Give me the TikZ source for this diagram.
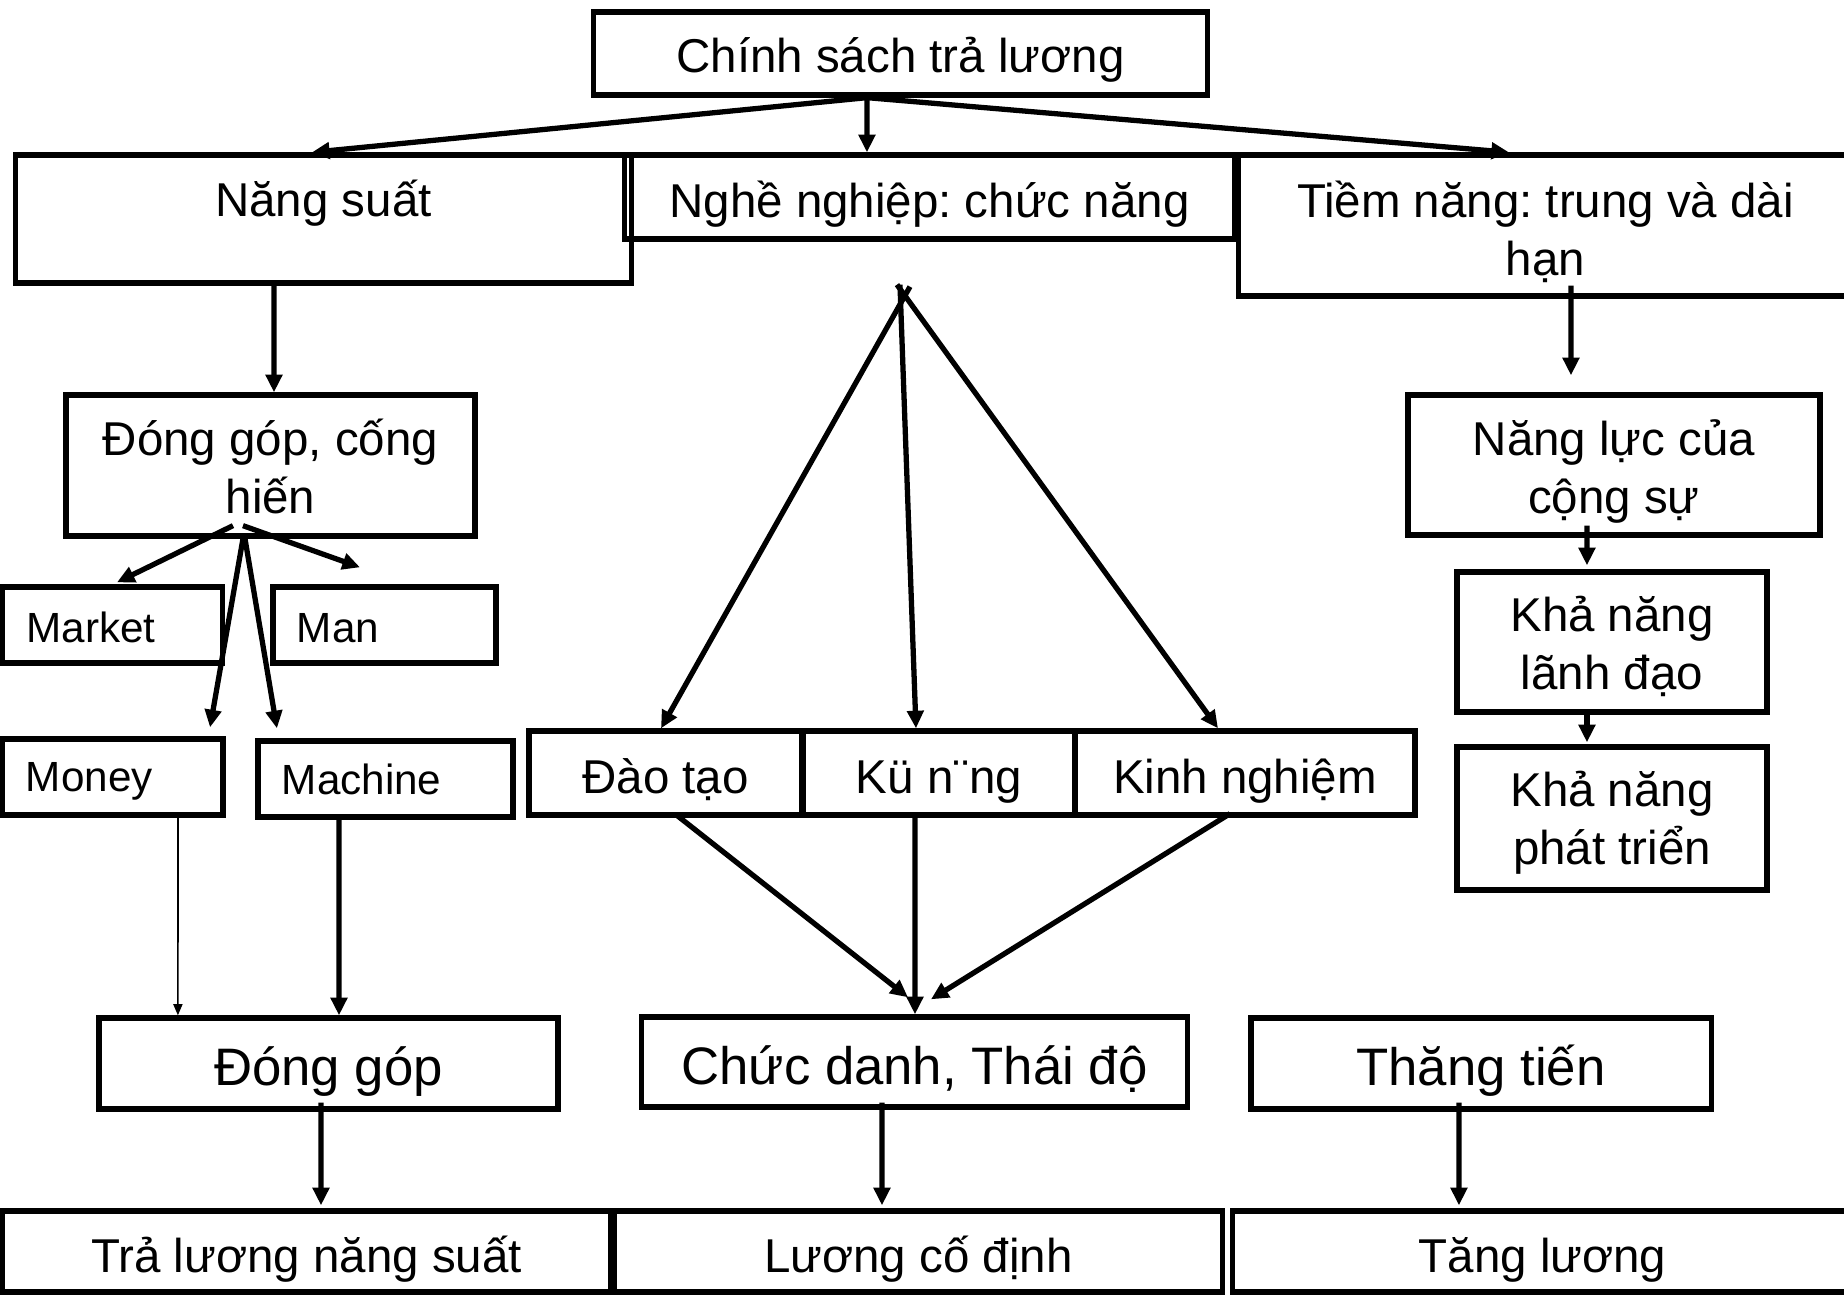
\documentclass[tikz,border=0pt]{standalone}
\usepackage{fontspec}
\setmainfont{Liberation Sans}
\usetikzlibrary{arrows.meta}
\frenchspacing
\begin{document}
\begin{tikzpicture}[x=0.01cm,y=-0.01cm,
  box/.style={draw,line width=1.5pt,inner sep=0pt,align=center,font=\fontsize{13.5pt}{16.5pt}\selectfont\frenchspacing},
  two/.style={text height=#1,text depth=3pt},
  one/.style={text height=#1,text depth=3pt},
  bigbox/.style={box,font=\fontsize{15pt}{18pt}\selectfont\frenchspacing},
  mbox/.style={draw,line width=1.5pt,inner ysep=0pt,inner xsep=0.24cm,align=left,font=\fontsize{12pt}{14pt}\selectfont},
  arr/.style={line width=1.5pt,-{Triangle[length=5pt,width=4.6pt]}},
  thinarr/.style={line width=0.45pt,-{Triangle[length=3.2pt,width=2.6pt]}}]
\clip (0,0) rectangle (1844,1295);
\fill[white] (0,0) rectangle (1844,1295);
% nodes
\node[box,one=14pt,minimum width=6.13cm,minimum height=0.83cm] (top) at (900.5,53.5) {Chính sách trả lương};
\node[box,minimum width=6.15cm,minimum height=1.28cm,text height=8pt,text depth=9.4pt] (ns) at (323.5,219) {Năng suất};
\node[box,two=31.2pt,minimum width=6.13cm,minimum height=1.41cm] (tn) at (1545.5,225.5) {Tiềm năng: trung và dài\\hạn};
\node[box,one=14.4pt,minimum width=6.09cm,minimum height=0.84cm] (nn) at (929.5,197) {Nghề nghiệp: chức năng};
\node[box,two=30.4pt,minimum width=4.09cm,minimum height=1.41cm] (dgch) at (270.5,465.5) {Đóng góp, cống\\hiến};
\node[mbox,one=12.7pt,text width=1.72cm,minimum height=0.76cm] (market) at (112.5,625) {Market};
\node[mbox,one=12.7pt,text width=1.75cm,minimum height=0.76cm] (man) at (384.5,625) {Man};
\node[mbox,one=11.5pt,text width=1.73cm,minimum height=0.76cm] (money) at (112.5,777) {Money};
\node[mbox,one=12pt,text width=2.07cm,minimum height=0.76cm] (machine) at (385.5,779) {Machine};
\node[box,one=14.4pt,minimum width=2.73cm,minimum height=0.84cm] (dt) at (665.5,773) {Đào tạo};
\node[box,one=14.4pt,minimum width=2.72cm,minimum height=0.84cm] (kn) at (939,773) {Kü n¨ng};
\node[box,one=14.4pt,minimum width=3.40cm,minimum height=0.84cm] (kng) at (1245,773) {Kinh nghiệm};
\node[box,two=30.6pt,minimum width=4.12cm,minimum height=1.40cm] (nl) at (1614,465) {Năng lực của\\cộng sự};
\node[box,two=30.3pt,minimum width=3.10cm,minimum height=1.40cm] (kld) at (1612,642) {Khả năng\\lãnh đạo};
\node[box,two=29.4pt,minimum width=3.10cm,minimum height=1.43cm] (kpt) at (1612,818.5) {Khả năng\\phát triển};
\node[bigbox,one=15.8pt,minimum width=4.59cm,minimum height=0.91cm] (dg) at (328.5,1063.5) {Đóng góp};
\node[bigbox,one=15.8pt,minimum width=5.45cm,minimum height=0.90cm] (cd) at (914.5,1062) {Chức danh, Thái độ};
\node[bigbox,one=15.8pt,minimum width=4.60cm,minimum height=0.91cm] (tt) at (1481,1063.5) {Thăng tiến};
\node[box,one=15.2pt,minimum width=6.07cm,minimum height=0.81cm] (tl) at (306.5,1251.5) {Trả lương năng suất};
\node[box,one=15.2pt,minimum width=6.07cm,minimum height=0.81cm] (lcd) at (918.5,1251.5) {Lương cố định};
\node[box,one=15.2pt,minimum width=6.19cm,minimum height=0.81cm] (tg) at (1542.5,1251.5) {Tăng lương};
% origins
\coordinate (ot) at ([xshift=-0.335cm]top.south);
% top level
\draw[arr] (ot) -- ([xshift=-0.115cm]ns.north);
\draw[arr] (ot) -- ([xshift=-0.625cm]nn.north);
\draw[arr] (ot) -- ([xshift=-0.365cm]tn.north);
% left branch
\draw[arr] ([xshift=-0.495cm]ns.south) -- ([xshift=0.035cm]dgch.north);
\draw[arr] ([xshift=-0.375cm,yshift=0.13cm]dgch.south) -- ([xshift=0.045cm,yshift=0.02cm]market.north);
\draw[arr] ([xshift=-0.275cm,yshift=0.13cm]dgch.south) -- ([xshift=-0.245cm,yshift=0.17cm]man.north);
\draw[arr] ([xshift=-0.275cm]dgch.south) -- ([xshift=0.975cm,yshift=0.09cm]money.north);
\draw[arr] ([xshift=-0.255cm]dgch.south) -- ([xshift=-1.085cm,yshift=0.10cm]machine.north);
\draw[thinarr] ([xshift=0.655cm,yshift=0.03cm]money.south) -- ([xshift=-1.505cm]dg.north);
\draw[arr] ([xshift=-0.465cm]machine.south) -- ([xshift=0.105cm]dg.north);
% middle branch
\draw[arr] ([xshift=-0.195cm,yshift=-0.45cm]nn.south) -- ([xshift=-0.045cm]dt.north);
\draw[arr] ([xshift=-0.295cm,yshift=-0.43cm]nn.south) -- ([xshift=-0.23cm]kn.north);
\draw[arr] ([xshift=-0.325cm,yshift=-0.43cm]nn.south) -- ([xshift=-0.27cm]kng.north);
\draw[arr] ([xshift=0.105cm,yshift=0.03cm]dt.south) -- ([xshift=-0.065cm,yshift=0.17cm]cd.north);
\draw[arr] ([xshift=-0.24cm,yshift=0.03cm]kn.south) -- ([xshift=0.005cm]cd.north);
\draw[arr] ([xshift=-0.15cm,yshift=0.04cm]kng.south) -- ([xshift=0.165cm,yshift=0.15cm]cd.north);
% right branch
\draw[arr] ([xshift=0.255cm,yshift=0.13cm]tn.south) -- ([xshift=-0.43cm,yshift=0.17cm]nl.north);
\draw[arr] ([xshift=-0.27cm,yshift=0.12cm]nl.south) -- ([xshift=-0.25cm,yshift=0.04cm]kld.north);
\draw[arr] ([xshift=-0.25cm]kld.south) -- ([xshift=-0.25cm,yshift=0.02cm]kpt.north);
% bottom
\draw[arr] ([xshift=-0.075cm,yshift=0.09cm]dg.south) -- ([xshift=0.145cm,yshift=0.03cm]tl.north);
\draw[arr] ([xshift=-0.325cm,yshift=0.07cm]cd.south) -- ([xshift=-0.365cm,yshift=0.03cm]lcd.north);
\draw[arr] ([xshift=-0.22cm,yshift=0.09cm]tt.south) -- ([xshift=-0.835cm,yshift=0.03cm]tg.north);
\end{tikzpicture}
\end{document}
